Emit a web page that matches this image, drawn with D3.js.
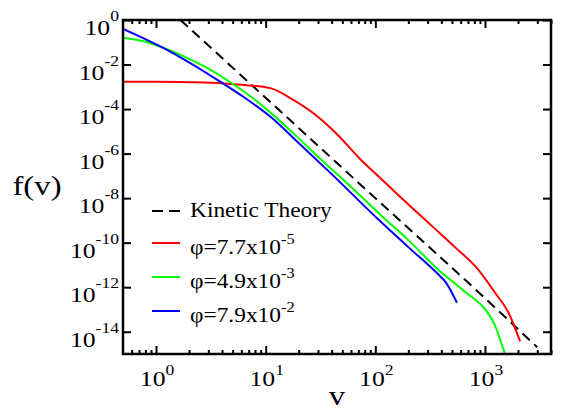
<!DOCTYPE html>
<html>
<head>
<meta charset="utf-8">
<script src="https://cdn.jsdelivr.net/npm/d3@7"></script>
<style>
  body { margin: 0; background: #fff; }
  svg { display: block; }
  text, tspan { font-family: "Liberation Serif", "Times New Roman", serif; fill: #000; }
</style>
</head>
<body>
<svg width="561" height="411"></svg>
<script>
// velocity values (x) and distribution values (y)
const kineticV = [1.67, 10, 100, 1000, 3000];
const kineticF = [1, 3.2e-4, 1e-8, 3.2e-13, 2e-15];

const redV = [0.5, 1, 2, 4, 6, 11, 18, 28, 45, 73, 110, 170, 320, 560, 830, 1240, 1640, 2090];
const redF = [1.7e-3, 1.7e-3, 1.62e-3, 1.45e-3, 1.23e-3, 8.7e-4, 2.5e-4, 5.8e-5, 7.2e-6, 5.6e-7,
  8.3e-8, 1.1e-8, 6.3e-10, 5e-11, 7.9e-12, 5.5e-13, 7.1e-14, 3.7e-15];

const greenV = [0.5, 0.8, 1.13, 2, 3.2, 4.9, 7.4, 11, 18, 32, 56, 111, 200, 390, 600, 1240, 1475, 1550];
const greenF = [0.16, 0.105, 0.06, 0.018, 5.5e-3, 1.45e-3, 3.5e-4, 7.1e-5, 7.9e-6, 5.4e-7, 4.4e-8,
  1.8e-9, 1.3e-10, 5.1e-12, 8.9e-13, 1.8e-14, 1.6e-15, 8e-16];

const blueV = [0.5, 1.13, 2, 3.85, 6.3, 11, 20, 40, 111, 200, 390, 434, 555];
const blueF = [0.4, 0.06, 0.0126, 1.7e-3, 3.5e-4, 4.6e-5, 3e-6, 1.2e-7, 9.1e-10, 6.3e-11,
  3.1e-12, 1.8e-12, 2e-13];

const xMajor = [1, 10, 100, 1000];
const xMajorExp = ["0", "1", "2", "3"];
const xMinor = [0.6, 0.7, 0.8, 0.9, 2, 3, 4, 5, 6, 7, 8, 9, 20, 30, 40, 50, 60, 70, 80, 90,
  200, 300, 400, 500, 600, 700, 800, 900, 2000, 3000, 4000];
const yMajor = [1, 1e-2, 1e-4, 1e-6, 1e-8, 1e-10, 1e-12, 1e-14];
const yMajorExp = ["0", "-2", "-4", "-6", "-8", "-10", "-12", "-14"];

const legendNames = ["Kinetic Theory", "\u03c6=7.7x10", "\u03c6=4.9x10", "\u03c6=7.9x10"];
const legendExp = ["", "-5", "-3", "-2"];

const svg = d3.select("svg");
const SX = 1.17; // text looks horizontally stretched
const FONT = "'Liberation Serif', 'Times New Roman', serif";

const pLeft = 123, pRight = 551, pTop = 20, pBottom = 354;
const x = d3.scaleLog().domain([0.5, 4000]).range([pLeft, pRight]);
const y = d3.scaleLog().domain([1e-15, 1]).range([pBottom, pTop]);

svg.append("clipPath").attr("id", "clip")
  .append("rect")
  .attr("x", pLeft).attr("y", pTop)
  .attr("width", pRight - pLeft).attr("height", pBottom - pTop);

// series
const series = [
  { v: kineticV, f: kineticF, color: "#000", dash: "10,6" },
  { v: redV, f: redF, color: "#ff0000", dash: null },
  { v: greenV, f: greenF, color: "#00ff00", dash: null },
  { v: blueV, f: blueF, color: "#0000ff", dash: null }
];

const line = d3.line()
  .x(d => x(d[0]))
  .y(d => y(d[1]))
  .curve(d3.curveMonotoneX);

const plot = svg.append("g").attr("clip-path", "url(#clip)");
series.forEach(s => {
  plot.append("path")
    .datum(s.v.map((v, i) => [v, s.f[i]]))
    .attr("d", line)
    .attr("fill", "none")
    .attr("stroke", s.color)
    .attr("stroke-width", 2)
    .attr("stroke-dasharray", s.dash);
});

// axes with inward ticks
function styleAxis(g) {
  g.select(".domain").remove();
  g.selectAll("line").attr("stroke", "#000").attr("stroke-width", 2);
}
const fmt = () => "";
svg.append("g").attr("transform", `translate(0,${pBottom})`)
  .call(d3.axisBottom(x).tickValues(xMajor).tickSizeInner(-8).tickSizeOuter(0).tickFormat(fmt))
  .call(styleAxis);
svg.append("g").attr("transform", `translate(0,${pBottom})`)
  .call(d3.axisBottom(x).tickValues(xMinor).tickSizeInner(-4).tickSizeOuter(0).tickFormat(fmt))
  .call(styleAxis);
svg.append("g").attr("transform", `translate(0,${pTop})`)
  .call(d3.axisTop(x).tickValues(xMajor).tickSizeInner(-8).tickSizeOuter(0).tickFormat(fmt))
  .call(styleAxis);
svg.append("g").attr("transform", `translate(0,${pTop})`)
  .call(d3.axisTop(x).tickValues(xMinor).tickSizeInner(-4).tickSizeOuter(0).tickFormat(fmt))
  .call(styleAxis);
svg.append("g").attr("transform", `translate(${pLeft},0)`)
  .call(d3.axisLeft(y).tickValues(yMajor).tickSizeInner(-8).tickSizeOuter(0).tickFormat(fmt))
  .call(styleAxis);
svg.append("g").attr("transform", `translate(${pRight},0)`)
  .call(d3.axisRight(y).tickValues(yMajor).tickSizeInner(-8).tickSizeOuter(0).tickFormat(fmt))
  .call(styleAxis);

// frame
svg.append("rect")
  .attr("x", pLeft).attr("y", pTop)
  .attr("width", pRight - pLeft).attr("height", pBottom - pTop)
  .attr("fill", "none").attr("stroke", "#000").attr("stroke-width", 2.5);

// power-of-ten labels
function powLabel(px, py, base, exp, anchor, size, expSize, expDy) {
  const t = svg.append("text")
    .attr("transform", `translate(${px},${py}) scale(${SX},1)`)
    .attr("text-anchor", anchor)
    .attr("font-family", FONT)
    .style("font-size", size + "px");
  t.append("tspan").attr("font-family", FONT).text(base);
  if (exp) {
    t.append("tspan").attr("dy", expDy).attr("font-family", FONT)
      .style("font-size", expSize + "px").text(exp);
  }
  return t;
}

yMajor.forEach((d, i) => {
  powLabel(119, y(d) + 15, "10", yMajorExp[i], "end", 22, 15, -14);
});
xMajor.forEach((d, i) => {
  powLabel(x(d) + 1, 386, "10", xMajorExp[i], "middle", 22, 15, -11);
});

// axis titles
svg.append("text")
  .attr("transform", `translate(37,195) scale(${SX},1)`)
  .attr("text-anchor", "middle")
  .attr("font-family", FONT)
  .style("font-size", "28px")
  .text("f(v)");
svg.append("text")
  .attr("transform", `translate(${(pLeft + pRight) / 2},405) scale(${SX},1)`)
  .attr("text-anchor", "middle")
  .attr("font-family", FONT)
  .style("font-size", "28px")
  .text("v");

// legend
const legendY = [211, 243, 277, 311];
series.forEach((s, i) => {
  svg.append("line")
    .attr("x1", 152).attr("x2", 180)
    .attr("y1", legendY[i]).attr("y2", legendY[i])
    .attr("stroke", s.color)
    .attr("stroke-width", 2)
    .attr("stroke-dasharray", i === 0 ? "11,6" : null);
  powLabel(190, legendY[i] + (i === 0 ? 6 : 11), legendNames[i], legendExp[i], "start", 20, 14, -10);
});
</script>
</body>
</html>
